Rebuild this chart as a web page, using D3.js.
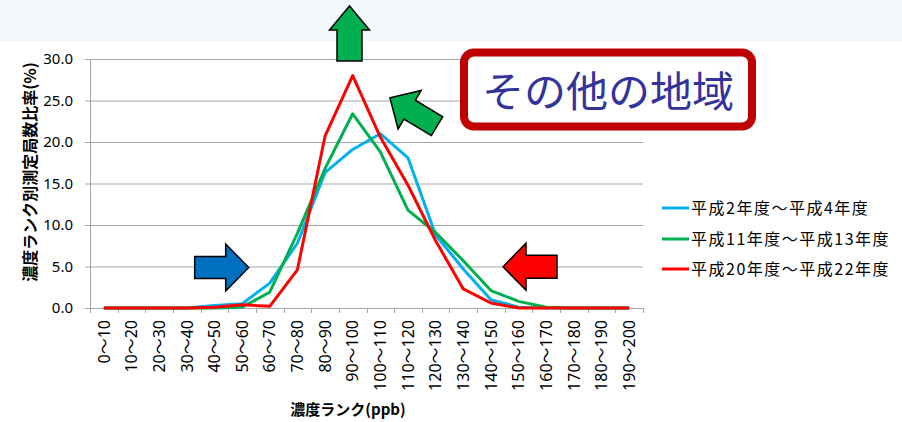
<!DOCTYPE html>
<html>
<head>
<meta charset="utf-8">
<script src="https://cdn.jsdelivr.net/npm/d3@7"></script>
<style>
  body { margin: 0; background: #fff; }
  svg { display: block; }
</style>
</head>
<body>
<div id="chart"></div>
<script>
// categories (concentration ranks, ppb)
const ranks = ["0～10","10～20","20～30","30～40","40～50","50～60","60～70","70～80","80～90","90～100",
               "100～110","110～120","120～130","130～140","140～150","150～160","160～170","170～180","180～190","190～200"];

// share of monitoring stations per rank (%)
const h02_04 = [0,0,0,0,0.3,0.5,3.0,7.8,16.3,19.1,21.0,18.1,8.8,4.7,1.0,0.1,0,0,0,0];
const h11_13 = [0,0,0,0,0,0.1,1.9,9.0,16.8,23.4,18.8,11.8,9.1,5.7,2.1,0.8,0.1,0,0,0];
const h20_22 = [0,0,0,0,0.1,0.4,0.2,4.6,20.7,28.0,20.6,14.8,8.1,2.3,0.6,0,0,0,0,0];

const seriesNames = ["平成2年度～平成4年度", "平成11年度～平成13年度", "平成20年度～平成22年度"];
const yTicks = [0, 5, 10, 15, 20, 25, 30];

function drawChart() {
    const W = 902, H = 422;
    const jp = "'Noto Sans CJK JP', sans-serif";
    const num = "'Noto Sans', 'Noto Sans CJK JP', sans-serif";

    const svg = d3.select("#chart").append("svg")
        .attr("width", W).attr("height", H);

    // light top band
    svg.append("rect").attr("x", 0).attr("y", 0).attr("width", W).attr("height", 41)
        .attr("fill", "#f4f8fc");

    const x = d3.scaleBand().domain(ranks).range([90, 643]).padding(0);
    const y = d3.scaleLinear().domain([0, 30]).range([308, 59]);

    // grid lines + y labels
    const gy = svg.append("g");
    gy.selectAll("line").data(yTicks).enter().append("line")
        .attr("x1", 85).attr("x2", 643)
        .attr("y1", d => y(d) + 0.5).attr("y2", d => y(d) + 0.5)
        .attr("stroke", "#a6a6a6").attr("stroke-width", 1);
    gy.selectAll("text").data(yTicks).enter().append("text")
        .attr("x", 73).attr("y", d => y(d))
        .attr("dy", "0.36em")
        .attr("text-anchor", "end")
        .attr("font-family", num).attr("font-size", 15).attr("fill", "#000")
        .text(d => d3.format(".1f")(d));

    // y axis line
    svg.append("line").attr("x1", 90.5).attr("x2", 90.5).attr("y1", y(30)).attr("y2", y(0))
        .attr("stroke", "#a6a6a6");

    // x tick marks at band boundaries
    const bounds = ranks.map(d => x(d)).concat([x.range()[1]]);
    svg.append("g").selectAll("line").data(bounds).enter().append("line")
        .attr("x1", d => Math.round(d) + 0.5).attr("x2", d => Math.round(d) + 0.5)
        .attr("y1", y(0)).attr("y2", y(0) + 5)
        .attr("stroke", "#a6a6a6");

    // x labels, rotated
    svg.append("g").selectAll("text").data(ranks).enter().append("text")
        .attr("transform", d => "translate(" + (x(d) + x.bandwidth() / 2) + "," + 320 + ") rotate(-90)")
        .attr("text-anchor", "end")
        .attr("dy", "0.36em")
        .attr("font-family", num).attr("font-size", 16).attr("fill", "#000")
        .text(d => d);

    // axis titles
    svg.append("text")
        .attr("transform", "translate(30,172) rotate(-90)")
        .attr("text-anchor", "middle").attr("dy", "0.36em")
        .attr("font-family", jp).attr("font-size", 16).attr("font-weight", "bold")
        .text("濃度ランク別測定局数比率(%)");
    svg.append("text")
        .attr("x", 348).attr("y", 410)
        .attr("text-anchor", "middle").attr("dy", "0.36em")
        .attr("font-family", jp).attr("font-size", 15).attr("font-weight", "bold")
        .text("濃度ランク(ppb)");

    // lines
    const colors = ["#00b0f0", "#00b050", "#ff0000"];
    const allSeries = [h02_04, h11_13, h20_22];
    const line = d3.line()
        .x((d, i) => x(ranks[i]) + x.bandwidth() / 2)
        .y(d => y(d));
    svg.append("g").selectAll("path").data(allSeries).enter().append("path")
        .attr("d", line)
        .attr("fill", "none")
        .attr("stroke", (d, i) => colors[i])
        .attr("stroke-width", 3)
        .attr("stroke-linejoin", "round");

    // legend
    const lg = svg.append("g").selectAll("g").data(seriesNames).enter().append("g")
        .attr("transform", (d, i) => "translate(662," + [208, 239, 269][i] + ")");
    lg.append("line").attr("x1", 0).attr("x2", 27)
        .attr("stroke", (d, i) => colors[i]).attr("stroke-width", 3);
    lg.append("text").attr("x", 29).attr("dy", "0.36em")
        .attr("font-family", jp).attr("font-size", 16).attr("letter-spacing", 1.5)
        .text(d => d);

    // block arrows
    function arrow(cx, cy, angle, color, L, hl, hw, sw) {
        const pts = [[-L/2, -sw/2], [L/2 - hl, -sw/2], [L/2 - hl, -hw/2], [L/2, 0],
                     [L/2 - hl, hw/2], [L/2 - hl, sw/2], [-L/2, sw/2]];
        svg.append("polygon")
            .attr("points", pts.map(p => p.join(",")).join(" "))
            .attr("transform", "translate(" + cx + "," + cy + ") rotate(" + angle + ")")
            .attr("fill", color).attr("stroke", "#000").attr("stroke-width", 1.5)
            .attr("stroke-linejoin", "miter");
    }
    arrow(349.5, 33.5, -90, "#00b050", 55, 24, 40, 25);
    arrow(413.5, 112, 211, "#00b050", 55, 23, 45, 22);
    arrow(221.7, 267.5, 0, "#0070c0", 54, 23, 47, 22);
    arrow(530, 266.7, 180, "#ff0000", 54, 23, 47, 23);

    // title box
    svg.append("rect").attr("x", 464).attr("y", 52.5).attr("width", 288).attr("height", 74)
        .attr("rx", 10).attr("fill", "#fff").attr("stroke", "#c00000").attr("stroke-width", 8);
    svg.append("text").attr("x", 608).attr("y", 92).attr("dy", "0.36em")
        .attr("text-anchor", "middle")
        .attr("font-family", jp).attr("font-size", 42).attr("fill", "#333399")
        .text("その他の地域");
}

drawChart();
</script>
</body>
</html>
